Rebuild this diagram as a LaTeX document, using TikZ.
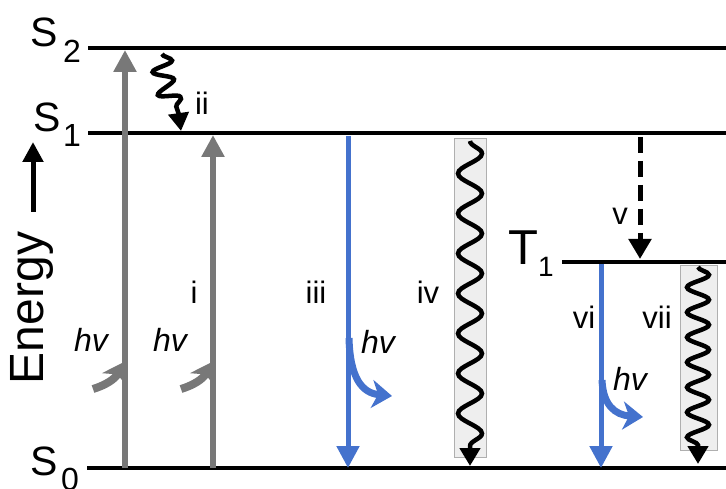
\documentclass[tikz,border=0pt]{standalone}
\usepackage{fontspec}
\setmainfont{Liberation Sans}
\usetikzlibrary{arrows.meta,decorations.pathmorphing}

\definecolor{absgray}{RGB}{120,120,120}
\definecolor{emitblue}{RGB}{68,114,205}
\definecolor{boxfill}{RGB}{238,238,238}
\definecolor{boxline}{RGB}{175,175,175}

\newcommand{\fs}[1]{\fontsize{#1}{#1}\selectfont}

\tikzset{
  level/.style={line width=4pt, black},
  statelab/.style={anchor=base west, inner sep=0pt, font=\fs{41}},
  sublab/.style={anchor=base west, inner sep=0pt, font=\fs{32}},
  romanlab/.style={anchor=base, inner sep=0pt, font=\fs{31}},
  hvlab/.style={anchor=base west, inner sep=0pt, font=\fs{32}\itshape},
  absorb/.style={line width=6pt, absgray, -{Triangle[width=22pt,length=22pt]}},
  absorbhv/.style={line width=8pt, absgray, -{Stealth[width=28pt,length=20pt,inset=6pt]}},
  emit/.style={line width=5pt, emitblue, -{Triangle[width=22pt,length=22pt]}},
  emithv/.style={line width=7pt, emitblue, -{Stealth[width=28pt,length=20pt,inset=6pt]}},
  wavy/.style={line width=4.5pt, black, -{Triangle[width=20pt,length=18pt]},
    decorate, decoration={snake, amplitude=#1}},
  wavy/.default=12pt,
  relaxbox/.style={fill=boxfill, draw=boxline, line width=0.8pt},
  iscdash/.style={line width=5pt, black, dash pattern=on 16pt off 8pt,
    -{Triangle[width=22pt,length=20pt]}},
}

\begin{document}
\begin{tikzpicture}[x=1pt,y=-1pt]
\useasboundingbox (0,0) rectangle (726,489);

% energy levels
\coordinate (S2a) at (88,48);   \coordinate (S2b) at (726,48);
\coordinate (S1a) at (88,133);  \coordinate (S1b) at (726,133);
\coordinate (T1a) at (562,262); \coordinate (T1b) at (726,262);
\coordinate (S0a) at (87,468);  \coordinate (S0b) at (726,468);
\draw[level] (S2a) -- (S2b);
\draw[level] (S1a) -- (S1b);
\draw[level] (T1a) -- (T1b);
\draw[level] (S0a) -- (S0b);

% level labels
\node[statelab] (S2s) at (30,47) {S};
\node[sublab]   (S2n) at (63,63) {2};
\node[statelab] (S1s) at (33,132) {S};
\node[sublab]   (S1n) at (63,147) {1};
\node[statelab] (S0s) at (30,475) {S};
\node[sublab]   (S0n) at (61,490) {0};
\node[statelab, font=\fs{49}] (T1s) at (508,265) {T};
\node[sublab, font=\fs{28}]   (T1n) at (538,277) {1};

% energy axis
\coordinate (Ea) at (33,212);
\coordinate (Eb) at (33,142);
\draw[line width=5pt, -{Triangle[width=20pt,length=20pt]}] (Ea) -- (Eb);
\node[rotate=90, anchor=base, inner sep=0pt, font=\fs{48}] (En) at (43,308) {Energy};

% absorption (i)
\coordinate (A1a) at (125,468); \coordinate (A1b) at (125,50);
\coordinate (A2a) at (213,468); \coordinate (A2b) at (213,135);
\draw[absorb] (A1a) -- (A1b);
\draw[absorb] (A2a) -- (A2b);
\coordinate (h1a) at (93,389); \coordinate (h1b) at (124,362);
\coordinate (h2a) at (181,389); \coordinate (h2b) at (212,362);
\draw[absorbhv] (h1a) .. controls (106,385) and (115,379) .. (h1b);
\draw[absorbhv] (h2a) .. controls (194,385) and (203,379) .. (h2b);
\node[hvlab] (hv1) at (74,352) {hv};
\node[hvlab] (hv2) at (153,352) {hv};
\node[romanlab] (li) at (194,303) {i};

% internal conversion (ii)
\coordinate (ICa) at (162,54);
\coordinate (ICb) at (181,131);
\draw[wavy=10pt, decoration={segment length=21pt, post length=18pt}]
  (ICa) .. controls (162,95) and (181,100) .. (ICb);
\node[romanlab] (lii) at (202,115) {ii};

% fluorescence (iii)
\coordinate (F1a) at (348,136); \coordinate (F1b) at (348,468);
\draw[emit] (F1a) -- (F1b);
\coordinate (f1a) at (349,338); \coordinate (f1b) at (392,396);
\draw[emithv] (f1a) .. controls (350,378) and (362,393) .. (f1b);
\node[hvlab] (hv3) at (361,353) {hv};
\node[romanlab] (liii) at (316,303) {iii};

% internal conversion to ground (iv)
\node[relaxbox, minimum width=32pt, minimum height=319pt, inner sep=0pt] (B4) at (470,297.5) {};
\coordinate (W4a) at (470,141); \coordinate (W4b) at (470,466);
\draw[wavy=12pt, decoration={segment length=40pt, post length=16pt}] (W4a) -- (W4b);
\node[romanlab] (liv) at (428,303) {iv};

% intersystem crossing (v)
\coordinate (Va) at (640,137); \coordinate (Vb) at (640,259);
\draw[iscdash] (Va) -- (Vb);
\node[romanlab] (lv) at (620,225) {v};

% phosphorescence (vi)
\coordinate (P1a) at (601,264); \coordinate (P1b) at (601,468);
\draw[emit] (P1a) -- (P1b);
\coordinate (p1a) at (602,380); \coordinate (p1b) at (643,417);
\draw[emithv] (p1a) .. controls (603,405) and (615,415) .. (p1b);
\node[hvlab] (hv4) at (613,390) {hv};
\node[romanlab] (lvi) at (584,328) {vi};

% intersystem crossing to ground (vii)
\node[relaxbox, minimum width=37pt, minimum height=185pt, inner sep=0pt] (B7) at (698.5,357.5) {};
\coordinate (W7a) at (698,267); \coordinate (W7b) at (698,464);
\draw[wavy=11pt, decoration={segment length=25pt, post length=16pt}] (W7a) -- (W7b);
\node[romanlab] (lvii) at (657,328) {vii};

\end{tikzpicture}
\end{document}
